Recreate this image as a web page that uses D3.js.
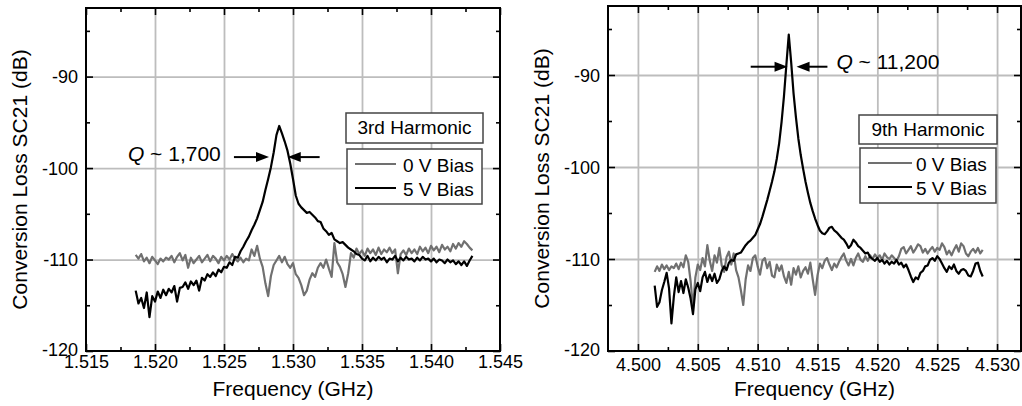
<!DOCTYPE html>
<html>
<head>
<meta charset="utf-8">
<script src="https://cdn.jsdelivr.net/npm/d3@7"></script>
<style>
  body { margin: 0; background: #fff; }
  svg { display: block; }
</style>
</head>
<body>
<div id="chart"></div>
<script>
// Two panels: conversion loss vs frequency around the 3rd and 9th harmonics.

// ---- data ----
// sweep grids: start frequency and step (GHz), values in dB
const f3Start = 1.5186, f3Step = 0.0002;
const loss3_0V = [
  -109.5, -109.9, -109.4, -110.2, -109.8, -110.4, -109.7, -110.1, -110.5, -109.9,
  -110.2, -109.8, -110.0, -109.6, -110.3, -109.7, -109.3, -110.1, -109.5, -110.9,
  -109.8, -110.4, -110.0, -109.6, -110.3, -109.9, -109.5, -110.2, -109.6, -109.9,
  -110.4, -109.7, -110.1, -109.6, -110.0, -109.4, -109.9, -110.2, -109.8, -110.3,
  -109.9, -110.1, -108.9, -109.6, -108.5, -109.9, -110.8, -112.6, -114.0, -111.8,
  -110.6, -110.1, -109.6, -110.3, -109.7, -110.5, -110.9, -110.4, -111.6, -112.0,
  -112.8, -113.9, -113.4, -112.2, -111.5, -111.9, -110.9, -110.4, -110.9, -110.0,
  -111.0, -111.9, -108.2, -110.3, -110.8, -111.6, -113.0, -111.5, -109.3, -109.8,
  -108.8, -109.4, -109.0, -109.6, -108.8, -109.3, -108.9, -109.5, -108.7, -109.4,
  -108.9, -109.2, -108.7, -109.3, -108.9, -111.5, -109.4, -109.0, -109.5, -108.8,
  -109.3, -108.9, -109.4, -108.6, -109.1, -108.7, -109.3, -108.5, -109.0, -108.6,
  -109.2, -108.4, -108.9, -108.6, -109.1, -108.3, -108.8, -108.2, -108.6, -108.0,
  -108.3, -108.7, -109.0
];
const loss3_5V = [
  -113.4, -114.8, -114.2, -115.3, -113.6, -116.3, -114.0, -114.6, -113.5, -114.2,
  -113.3, -113.9, -113.2, -113.6, -112.9, -114.6, -113.1, -113.0, -112.5, -113.2,
  -112.4, -112.8, -112.3, -113.4, -112.0, -112.3, -111.6, -111.9, -111.4, -111.8,
  -111.1, -111.4, -110.8, -110.9, -110.3, -110.6, -109.7, -109.8, -109.1, -108.6,
  -108.0, -107.5, -106.8, -106.2, -105.5, -104.6, -103.7, -102.4, -101.2, -99.9,
  -98.3, -96.4, -95.4, -96.2, -97.1, -98.1, -99.5, -101.2, -103.0, -103.9,
  -104.3, -104.6, -104.9, -104.8, -105.1, -105.4, -105.8, -105.9, -106.6, -106.9,
  -107.3, -107.1, -107.8, -108.0, -108.2, -108.1, -108.4, -108.7, -108.9, -109.1,
  -109.4, -109.5, -109.9, -110.1, -109.6, -110.2, -109.8, -110.1, -109.7, -110.0,
  -109.8, -110.3, -109.9, -110.0, -109.6, -110.2, -109.8, -110.1, -109.7, -110.0,
  -109.9, -110.2, -109.8, -110.1, -109.7, -110.0, -109.9, -110.2, -109.9, -110.3,
  -110.0, -110.1, -110.4, -110.0, -110.3, -110.1, -110.5, -110.2, -110.6, -110.2,
  -110.7, -110.1, -109.6
];

const f9Start = 4.5014, f9Step = 0.0002;
const loss9_0V = [
  -111.4, -110.8, -111.3, -110.6, -111.1, -110.7, -111.2, -110.8, -111.0, -110.5,
  -111.1, -110.4, -110.9, -109.6, -110.3, -112.4, -115.3, -112.0, -110.6, -111.2,
  -109.9, -110.8, -108.5, -110.2, -111.3, -109.6, -110.4, -108.8, -110.7, -111.4,
  -109.8, -109.2, -110.6, -109.4, -111.2, -112.0, -113.4, -115.0, -112.2, -110.7,
  -111.3, -109.9, -109.6, -110.8, -111.7, -110.2, -109.9, -111.0, -110.3, -111.8,
  -112.0, -110.6, -111.3, -110.7, -111.9, -112.6, -111.4, -112.8, -111.0, -111.7,
  -110.8, -112.0, -111.3, -110.9, -111.6, -110.4, -112.2, -113.9, -111.8, -110.5,
  -111.0, -110.2, -109.9, -110.6, -111.2, -110.5, -110.9, -110.3, -109.8, -109.4,
  -110.2, -110.7, -110.0, -110.7, -109.9, -109.4, -110.1, -110.3, -109.7, -110.2,
  -109.6, -110.0, -109.5, -109.9, -109.6, -110.1, -109.4, -109.8, -110.0, -109.6,
  -109.9, -110.2, -109.7, -108.9, -108.7, -109.4, -109.0, -108.6, -109.3, -108.9,
  -108.4, -108.6, -109.3, -108.9, -109.4, -109.0, -108.7, -109.2, -108.8, -109.0,
  -108.3, -108.7, -109.5, -109.1, -109.6, -109.0, -108.5, -109.2, -108.3, -108.6,
  -109.4, -109.7, -109.2, -108.9, -109.3, -108.8, -109.4, -109.0
];
const loss9_5V = [
  -112.9, -115.2, -114.7, -113.4, -112.5, -111.5, -113.2, -117.0, -114.1, -112.0,
  -113.6, -112.4, -113.7, -112.2, -113.1, -114.3, -116.0, -113.3, -112.6, -113.5,
  -112.0, -111.4, -112.5, -111.7, -112.4, -111.6, -112.6, -112.2, -111.3, -110.8,
  -111.2, -110.4, -110.1, -110.2, -109.5, -109.4, -109.3, -108.9, -108.5, -108.2,
  -108.0, -107.7, -107.4, -106.8, -106.2, -105.4, -104.5, -103.6, -102.6, -101.6,
  -100.5, -99.1, -97.4, -95.1, -92.3, -88.9, -85.6, -88.6, -92.0, -94.6,
  -96.9, -98.7, -100.2, -101.6, -102.8, -103.9, -104.8, -105.6, -106.3, -106.9,
  -107.2, -107.3, -107.0, -106.6, -106.5, -106.9, -107.1, -107.4, -107.7, -107.9,
  -108.3, -108.8, -108.5, -107.9, -108.2, -108.6, -108.8, -109.1, -109.4, -109.3,
  -109.8, -110.0, -110.2, -109.9, -110.3, -110.1, -110.5, -110.2, -110.6, -110.3,
  -110.5, -110.1, -110.6, -110.4, -110.9, -110.6, -111.2, -111.9, -112.5, -112.0,
  -112.2, -111.5, -111.3, -110.8, -110.7, -110.1, -109.9, -110.2, -109.7, -110.0,
  -110.5, -111.0, -111.4, -110.8, -111.1, -110.6, -111.3, -111.6, -111.2, -111.1,
  -111.3, -111.8, -111.9, -111.3, -110.5, -110.4, -111.3, -111.9
];

// axes
const yDomain = [-120, -82.5];
const yMajor = [-120, -110, -100, -90];
const yMinor = [-115, -105, -95, -85];
const x3Domain = [1.515, 1.545];
const x3Major = [1.515, 1.520, 1.525, 1.530, 1.535, 1.540, 1.545];
const x3Minor = [1.5175, 1.5225, 1.5275, 1.5325, 1.5375, 1.5425];
const x9Domain = [4.4975, 4.532];
const x9Major = [4.500, 4.505, 4.510, 4.515, 4.520, 4.525, 4.530];
const x9Minor = [4.5025, 4.5075, 4.5125, 4.5175, 4.5225, 4.5275];

const legendTitles = ["3rd Harmonic", "9th Harmonic"];
const seriesNames = ["0 V Bias", "5 V Bias"];
const qLabels = ["1,700", "11,200"];

const xLabel = "Frequency (GHz)";
const yLabel = "Conversion Loss SC21 (dB)";

// ---- drawing ----
const W = 1022, H = 406;
const FONT = "Arial, 'Liberation Sans', Helvetica, sans-serif";
const seriesColor = ["#707070", "#000000"];

const svg = d3.select("#chart").append("svg")
    .attr("width", W).attr("height", H)
    .style("font-family", FONT);

const panels = [
  {
    left: 86, right: 500, top: 8, bottom: 351,
    xDomain: x3Domain, xMajor: x3Major, xMinor: x3Minor,
    start: f3Start, step: f3Step, series: [loss3_0V, loss3_5V],
    tickBase: 368, titleBase: 396,
    legend: { x: 346, y: 113, w: 137, h: 30, y2: 149, h2: 55, lineX: 355, lineLen: 41, textX: 403 },
    title: legendTitles[0], q: qLabels[0],
    // annotation: arrow tails / tips and label anchor in data units
    arrowY: -98.8, arrowL: [1.52572, 1.52826], arrowR: [1.53193, 1.52962],
    qPos: [1.51804, -99.2]
  },
  {
    left: 608, right: 1021, top: 6, bottom: 351,
    xDomain: x9Domain, xMajor: x9Major, xMinor: x9Minor,
    start: f9Start, step: f9Step, series: [loss9_0V, loss9_5V],
    tickBase: 371, titleBase: 396,
    legend: { x: 859, y: 115, w: 138, h: 29, y2: 148, h2: 55, lineX: 868, lineLen: 44, textX: 916 },
    title: legendTitles[1], q: qLabels[1],
    arrowY: -89.1, arrowL: [4.50942, 4.5125], arrowR: [4.51583, 4.51325],
    qPos: [4.51658, -89.3]
  }
];

// plain hyphen for negative tick labels, as in the original figure
const yFmt = v => String(v);

function drawPanel(p) {
  const g = svg.append("g");
  const x = d3.scaleLinear().domain(p.xDomain).range([p.left, p.right]);
  const y = d3.scaleLinear().domain(yDomain).range([p.bottom, p.top]);
  const w = p.right - p.left, h = p.bottom - p.top;

  // grid
  g.append("g").attr("transform", `translate(0,${p.bottom})`)
    .call(d3.axisBottom(x).tickValues(p.xMajor.filter(v => x(v) > p.left + 1 && x(v) < p.right - 1))
      .tickSize(-h).tickFormat(""))
    .call(s => s.select(".domain").remove())
    .selectAll("line").attr("stroke", "#bdbdbd").attr("stroke-width", 1.8);
  g.append("g").attr("transform", `translate(${p.left},0)`)
    .call(d3.axisLeft(y).tickValues(yMajor.filter(v => v > yDomain[0])).tickSize(-w).tickFormat(""))
    .call(s => s.select(".domain").remove())
    .selectAll("line").attr("stroke", "#bdbdbd").attr("stroke-width", 1.8);

  // traces
  const line = d3.line()
    .x((d, i) => x(p.start + i * p.step))
    .y(d => y(d));
  p.series.forEach((vals, k) => {
    g.append("path")
      .datum(vals)
      .attr("d", line)
      .attr("fill", "none")
      .attr("stroke", seriesColor[k])
      .attr("stroke-width", 2.2)
      .attr("stroke-linejoin", "round");
  });

  // frame
  g.append("rect")
    .attr("x", p.left).attr("y", p.top).attr("width", w).attr("height", h)
    .attr("fill", "none").attr("stroke", "#000").attr("stroke-width", 2);

  // inward ticks on all four sides
  function ticks(axis, transform, vals, len, labels) {
    const a = g.append("g").attr("transform", transform)
      .call(axis.tickValues(vals).tickSize(-len).tickPadding(labels ? 3 : 0)
        .tickFormat(labels ? labels : ""));
    a.select(".domain").remove();
    a.selectAll("line").attr("stroke", "#000").attr("stroke-width", 1.6);
    return a;
  }
  const bx = ticks(d3.axisBottom(x), `translate(0,${p.bottom})`, p.xMajor, 7, d3.format(".3f"));
  bx.selectAll("text").attr("font-size", 18).attr("fill", "#000")
    .attr("dy", null).attr("y", p.tickBase - p.bottom);
  ticks(d3.axisBottom(x), `translate(0,${p.bottom})`, p.xMinor, 4);
  ticks(d3.axisTop(x), `translate(0,${p.top})`, p.xMajor, 7);
  ticks(d3.axisTop(x), `translate(0,${p.top})`, p.xMinor, 4);
  const ly = ticks(d3.axisLeft(y), `translate(${p.left},0)`, yMajor, 7, yFmt);
  ly.selectAll("text").attr("font-size", 18).attr("fill", "#000")
    .attr("x", -8).attr("dy", d => d === yDomain[0] ? "0.25em" : "0.35em");
  ticks(d3.axisLeft(y), `translate(${p.left},0)`, yMinor, 4);
  ticks(d3.axisRight(y), `translate(${p.right},0)`, yMajor, 7);
  ticks(d3.axisRight(y), `translate(${p.right},0)`, yMinor, 4);

  // axis titles
  g.append("text")
    .attr("x", (p.left + p.right) / 2).attr("y", p.titleBase)
    .attr("text-anchor", "middle").attr("font-size", 21)
    .text(xLabel);
  g.append("text")
    .attr("transform", `translate(${p.left - 59},${(p.top + p.bottom) / 2}) rotate(-90)`)
    .attr("text-anchor", "middle").attr("font-size", 21)
    .text(yLabel);

  // legend
  const L = p.legend;
  g.append("rect").attr("x", L.x).attr("y", L.y).attr("width", L.w).attr("height", L.h)
    .attr("fill", "#fff").attr("stroke", "#444").attr("stroke-width", 1.5);
  g.append("text").attr("x", L.x + L.w / 2).attr("y", L.y + 21)
    .attr("text-anchor", "middle").attr("font-size", 19).text(p.title);
  g.append("rect").attr("x", L.x + 1).attr("y", L.y2).attr("width", L.w - 2).attr("height", L.h2)
    .attr("fill", "#fff").attr("stroke", "#444").attr("stroke-width", 1.5);
  seriesNames.forEach((name, k) => {
    const yy = L.y2 + 15 + k * 24;
    g.append("line").attr("x1", L.lineX).attr("x2", L.lineX + L.lineLen)
      .attr("y1", yy).attr("y2", yy)
      .attr("stroke", seriesColor[k]).attr("stroke-width", 2.2);
    g.append("text").attr("x", L.textX).attr("y", yy + 7.5)
      .attr("font-size", 19).text(name);
  });

  // Q annotation with arrows
  [p.arrowL, p.arrowR].forEach(a => {
    const x0 = x(a[0]), x1 = x(a[1]), yy = y(p.arrowY);
    const dir = Math.sign(x1 - x0);
    g.append("line").attr("x1", x0).attr("x2", x1 - dir * 10)
      .attr("y1", yy).attr("y2", yy).attr("stroke", "#000").attr("stroke-width", 2);
    g.append("path")
      .attr("d", `M${x1},${yy} L${x1 - dir * 13},${yy - 5} L${x1 - dir * 13},${yy + 5} Z`)
      .attr("fill", "#000");
  });
  const qt = g.append("text").attr("x", x(p.qPos[0])).attr("y", y(p.qPos[1]))
    .attr("font-size", 21);
  qt.append("tspan").attr("font-style", "italic").text("Q");
  qt.append("tspan").text(" ~ " + p.q);
}

panels.forEach(drawPanel);
</script>
</body>
</html>
